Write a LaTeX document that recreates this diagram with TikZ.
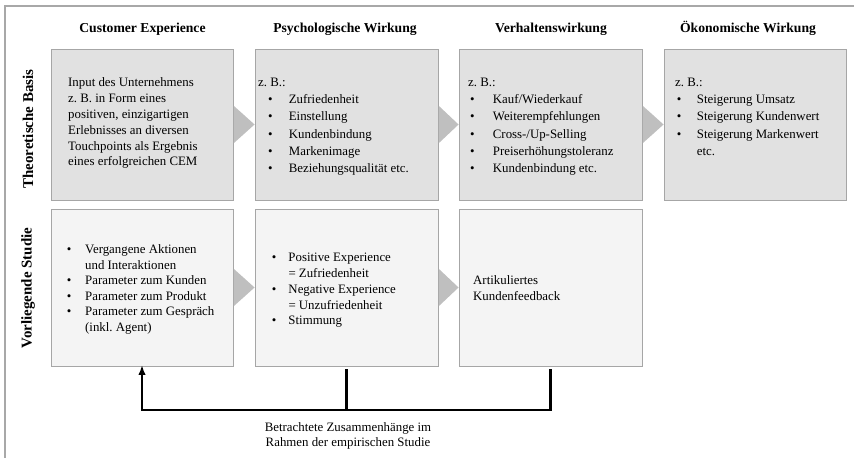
\documentclass[tikz,border=0pt]{standalone}
\usepackage{fontspec}
\setmainfont{Liberation Serif}
\usetikzlibrary{arrows.meta,calc}
\definecolor{framegray}{HTML}{A8A8A8}
\definecolor{boxborder}{HTML}{A6A6A6}
\definecolor{topfill}{HTML}{E1E1E1}
\definecolor{botfill}{HTML}{F4F4F4}
\definecolor{trigray}{HTML}{BFBFBF}
\begin{document}
\begin{tikzpicture}[x=1bp,y=-1bp,
  frame/.style={draw=framegray,line width=1.8bp},
  topbox/.style={draw=boxborder,fill=topfill,line width=0.9bp,minimum height=151bp,inner sep=0pt},
  botbox/.style={draw=boxborder,fill=botfill,line width=0.9bp,minimum height=157bp,inner sep=0pt},
  chev/.style={fill=trigray},
  hdr/.style={font=\fontsize{13.7}{16}\selectfont\bfseries,anchor=base,inner sep=0pt},
  rowlbl/.style={font=\fontsize{15}{16}\selectfont\bfseries,rotate=90,inner sep=0pt},
  txt/.style={anchor=base west,inner sep=0pt,font=\fontsize{12.9}{#1}\selectfont\frenchspacing},
  lbl/.style={anchor=base,inner sep=0pt,font=\fontsize{12.9}{16}\selectfont\frenchspacing},
  conn/.style={draw=black,line width=2.1bp}
]
\useasboundingbox (0,0) rectangle (854,458);
% frame
\draw[frame] (5,458) -- (5,6) -- (854,6);
% headers
\node[hdr] (h1) at (142.5,32.5) {Customer Experience};
\node[hdr] (h2) at (345,32.5) {Psychologische Wirkung};
\node[hdr] (h3) at (551,32.5) {Verhaltenswirkung};
\node[hdr] (h4) at (748,32.5) {Ökonomische Wirkung};
% row labels
\node[rowlbl] (r1) at (28,129) {Theoretische Basis};
\node[rowlbl] (r2) at (28,288) {Vorliegende Studie};
% boxes
\node[topbox,minimum width=182bp] (t1) at (142,124.5) {};
\node[topbox,minimum width=183bp] (t2) at (346.5,124.5) {};
\node[topbox,minimum width=183bp] (t3) at (550.5,124.5) {};
\node[topbox,minimum width=182bp] (t4) at (755,124.5) {};
\node[botbox,minimum width=182bp] (b1) at (142,287.5) {};
\node[botbox,minimum width=183bp] (b2) at (346.5,287.5) {};
\node[botbox,minimum width=183bp] (b3) at (550.5,287.5) {};
% chevrons
\foreach \a/\b in {t1/t2,t2/t3,t3/t4,b1/b2,b2/b3}
  \fill[chev] ($(\a.east)+(0.5,-18.5)$) -- (\b.west) -- ($(\a.east)+(0.5,18.5)$) -- cycle;
% texts top
\node[txt=15.8bp] (t1x) at (68,87) {\begin{tabular}[t]{@{}l@{}}Input des Unternehmens\\ z. B. in Form eines\\ positiven, einzigartigen\\ Erlebnisses an diversen\\ Touchpoints als Ergebnis\\ eines erfolgreichen CEM\end{tabular}};
\node[txt=17.2bp] (t2x) at (258,86.5) {\begin{tabular}[t]{@{\hspace{10bp}}p{20.7bp}@{}l@{}}\multicolumn{2}{@{}l@{}}{z. B.:}\\ \textbullet & Zufriedenheit\\ \textbullet & Einstellung\\ \textbullet & Kundenbindung\\ \textbullet & Markenimage\\ \textbullet & Beziehungsqualität etc.\end{tabular}};
\node[txt=17.2bp] (t3x) at (468,86.5) {\begin{tabular}[t]{@{\hspace{2bp}}p{22.7bp}@{}l@{}}\multicolumn{2}{@{}l@{}}{z. B.:}\\ \textbullet & Kauf/Wiederkauf\\ \textbullet & Weiterempfehlungen\\ \textbullet & Cross-/Up-Selling\\ \textbullet & Preiserhöhungstoleranz\\ \textbullet & Kundenbindung etc.\end{tabular}};
\node[txt=17.2bp] (t4x) at (675,86.5) {\begin{tabular}[t]{@{\hspace{1.7bp}}p{20bp}@{}l@{}}\multicolumn{2}{@{}l@{}}{z. B.:}\\ \textbullet & Steigerung Umsatz\\ \textbullet & Steigerung Kundenwert\\ \textbullet & Steigerung Markenwert\\ & etc.\end{tabular}};
% texts bottom
\node[txt=15.5bp] (b1x) at (66.7,254) {\begin{tabular}[t]{@{}p{18.3bp}@{}l@{}}\textbullet & Vergangene Aktionen\\ & und Interaktionen\\ \textbullet & Parameter zum Kunden\\ \textbullet & Parameter zum Produkt\\ \textbullet & Parameter zum Gespräch\\ & (inkl. Agent)\end{tabular}};
\node[txt=15.75bp] (b2x) at (271.7,262) {\begin{tabular}[t]{@{}p{16.6bp}@{}l@{}}\textbullet & Positive Experience\\ & = Zufriedenheit\\ \textbullet & Negative Experience\\ & = Unzufriedenheit\\ \textbullet & Stimmung\end{tabular}};
\node[txt=16bp] (b3x) at (473,285) {\begin{tabular}[t]{@{}l@{}}Artikuliertes\\ Kundenfeedback\end{tabular}};
% connector
\coordinate (jl) at (142,410);
\draw[conn,shorten <=3bp,shorten >=-1.5bp,-{Latex[length=10bp,width=7.5bp]}] (b3.south) |- (jl) -- (b1.south);
\draw[conn,shorten <=3bp] (b2.south) -- (b2.south |- jl);
\node[lbl] (cap) at (348,431) {\begin{tabular}[t]{@{}c@{}}Betrachtete Zusammenhänge im\\ Rahmen der empirischen Studie\end{tabular}};
\end{tikzpicture}
\end{document}
